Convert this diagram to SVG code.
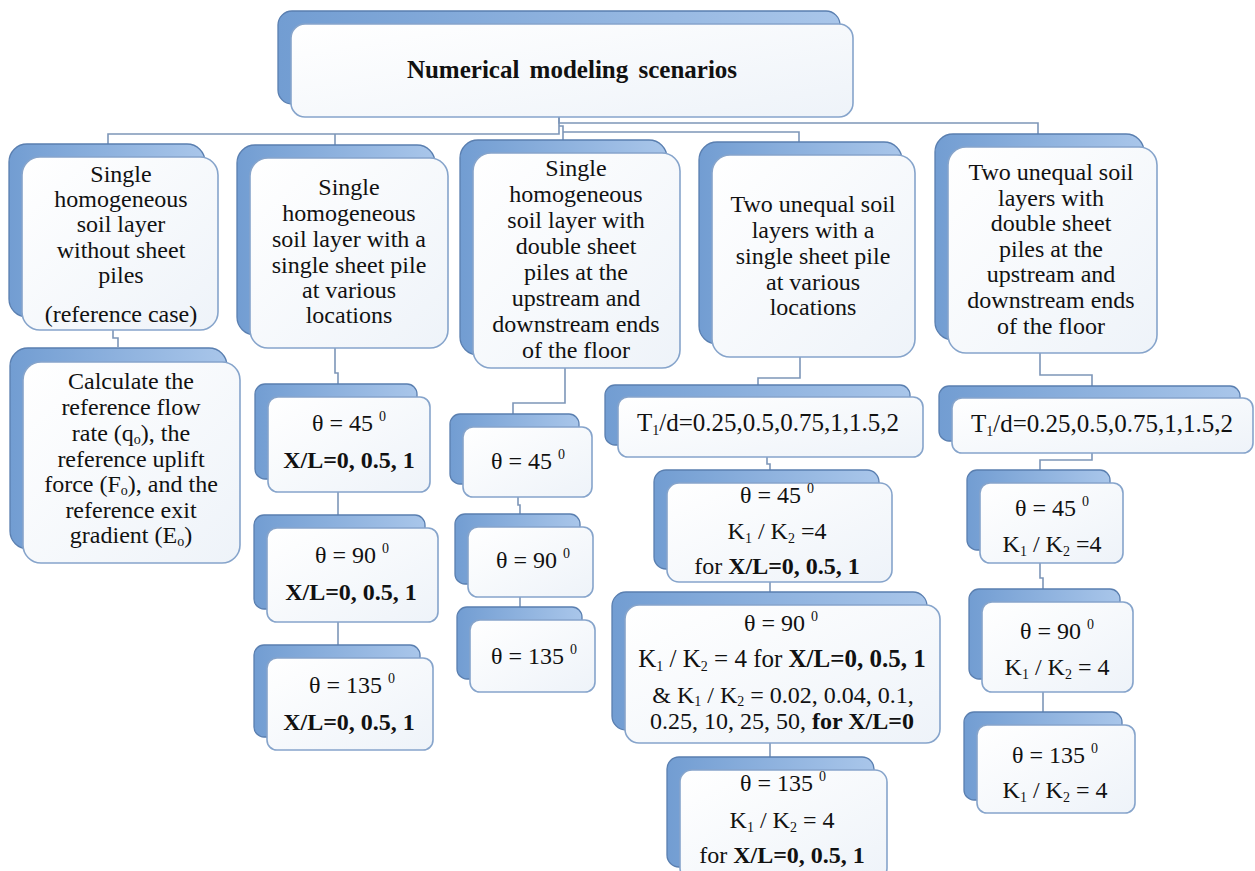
<svg xmlns="http://www.w3.org/2000/svg" width="1255" height="871" viewBox="0 0 1255 871">
<defs>
<linearGradient id="backG" x1="0" y1="0" x2="1" y2="0">
<stop offset="0" stop-color="#729dd2"/>
<stop offset="1" stop-color="#a9c6ea"/>
</linearGradient>
<linearGradient id="frontG" x1="0" y1="0" x2="1" y2="1">
<stop offset="0" stop-color="#ffffff"/>
<stop offset="1" stop-color="#eef3f9"/>
</linearGradient>
</defs>
<style>
.back{fill:url(#backG);stroke:#5a7fb0;stroke-width:1.3}
.front{fill:url(#frontG);stroke:#86a4cb;stroke-width:1.6}
.t{font-family:"Liberation Serif","Times New Roman",serif;font-size:24px;fill:#111;text-anchor:middle}
.title{font-family:"Liberation Serif","Times New Roman",serif;font-size:25px;font-weight:bold;fill:#111;text-anchor:middle;word-spacing:4px}
.w{font-size:25px}
.b{font-weight:bold}
.s{font-size:14px}
.conn{fill:none;stroke:#7d96b8;stroke-width:1.6}
</style>
<rect width="1255" height="871" fill="#ffffff"/>

<g id="connectors">
<path class="conn" d="M559,117 V134 H108 V144"/>
<path class="conn" d="M335,134 V145"/>
<path class="conn" d="M559,117 V123 H1038 V134"/>
<path class="conn" d="M559,126 H563 V140"/>
<path class="conn" d="M563,132 H799 V142"/>
<path class="conn" d="M113,330 V338 H118 V347"/>
<path class="conn" d="M335,348 V373 H338 V385"/>
<path class="conn" d="M338,492 V515"/>
<path class="conn" d="M338,622 V647"/>
<path class="conn" d="M565,368 V403 H513 V414"/>
<path class="conn" d="M518,497 V505 H520 V514"/>
<path class="conn" d="M520,597 V607"/>
<path class="conn" d="M800,357 V378 H758 V385"/>
<path class="conn" d="M767,457 V464 H770 V471"/>
<path class="conn" d="M770,582 V592"/>
<path class="conn" d="M770,743 V757"/>
<path class="conn" d="M1040,353 V375 H1092 V386"/>
<path class="conn" d="M1092,453 V460 H1040 V470"/>
<path class="conn" d="M1040,563 V578 H1043 V589"/>
<path class="conn" d="M1043,692 V712"/>
</g>

<g id="top">
<rect class="back" x="278" y="11" width="562" height="93" rx="14"/>
<rect class="front" x="291" y="24" width="562" height="93" rx="14"/>
<text class="title" x="572" y="78">Numerical modeling scenarios</text>
</g>

<g id="c1a">
<rect class="back" x="9" y="144" width="196" height="173" rx="18"/>
<rect class="front" x="22" y="157" width="196" height="173" rx="18"/>
<text class="t" x="121" y="182">Single</text>
<text class="t" x="121" y="207">homogeneous</text>
<text class="t" x="121" y="232">soil layer</text>
<text class="t" x="121" y="258">without sheet</text>
<text class="t" x="121" y="283">piles</text>
<text class="t" x="121" y="322">(reference case)</text>
</g>

<g id="c2a">
<rect class="back" x="237" y="145" width="198" height="190" rx="18"/>
<rect class="front" x="250" y="158" width="198" height="190" rx="18"/>
<text class="t" x="349" y="195">Single</text>
<text class="t" x="349" y="221">homogeneous</text>
<text class="t" x="349" y="247">soil layer with a</text>
<text class="t" x="349" y="273">single sheet pile</text>
<text class="t" x="349" y="298">at various</text>
<text class="t" x="349" y="323">locations</text>
</g>

<g id="c3a">
<rect class="back" x="460" y="140" width="207" height="215" rx="18"/>
<rect class="front" x="473" y="153" width="207" height="215" rx="18"/>
<text class="t" x="576" y="176">Single</text>
<text class="t" x="576" y="202">homogeneous</text>
<text class="t" x="576" y="228">soil layer with</text>
<text class="t" x="576" y="254">double sheet</text>
<text class="t" x="576" y="280">piles at the</text>
<text class="t" x="576" y="306">upstream and</text>
<text class="t" x="576" y="332">downstream ends</text>
<text class="t" x="576" y="358">of the floor</text>
</g>

<g id="c4a">
<rect class="back" x="699" y="142" width="203" height="202" rx="18"/>
<rect class="front" x="712" y="155" width="203" height="202" rx="18"/>
<text class="t" x="813" y="212">Two unequal soil</text>
<text class="t" x="813" y="238">layers with a</text>
<text class="t" x="813" y="264">single sheet pile</text>
<text class="t" x="813" y="290">at various</text>
<text class="t" x="813" y="315">locations</text>
</g>

<g id="c5a">
<rect class="back" x="935" y="134" width="209" height="206" rx="18"/>
<rect class="front" x="948" y="147" width="209" height="206" rx="18"/>
<text class="t" x="1051" y="180">Two unequal soil</text>
<text class="t" x="1051" y="206">layers with</text>
<text class="t" x="1051" y="231">double sheet</text>
<text class="t" x="1051" y="257">piles at the</text>
<text class="t" x="1051" y="282">upstream and</text>
<text class="t" x="1051" y="308">downstream ends</text>
<text class="t" x="1051" y="334">of the floor</text>
</g>

<g id="c1b">
<rect class="back" x="10" y="348" width="217" height="201" rx="18"/>
<rect class="front" x="23" y="362" width="217" height="201" rx="18"/>
<text class="t" x="131" y="389">Calculate the</text>
<text class="t" x="131" y="415">reference flow</text>
<text class="t" x="131" y="441">rate (q<tspan class="s" dy="3">o</tspan><tspan dy="-3">), the</tspan></text>
<text class="t" x="131" y="467">reference uplift</text>
<text class="t" x="131" y="492">force (F<tspan class="s" dy="3">o</tspan><tspan dy="-3">), and the</tspan></text>
<text class="t" x="131" y="518">reference exit</text>
<text class="t" x="131" y="543">gradient (E<tspan class="s" dy="3">o</tspan><tspan dy="-3">)</tspan></text>
</g>

<g id="c2b">
<rect class="back" x="255" y="384" width="162" height="95" rx="10"/>
<rect class="front" x="268" y="397" width="162" height="95" rx="10"/>
<text class="t" x="349" y="431">θ = 45 <tspan class="s" dy="-10">0</tspan></text>
<text class="t b" x="349" y="468">X/L=0, 0.5, 1</text>
</g>

<g id="c2c">
<rect class="back" x="254" y="515" width="171" height="94" rx="10"/>
<rect class="front" x="267" y="528" width="171" height="94" rx="10"/>
<text class="t" x="352" y="563">θ = 90 <tspan class="s" dy="-10">0</tspan></text>
<text class="t b" x="351" y="600">X/L=0, 0.5, 1</text>
</g>

<g id="c2d">
<rect class="back" x="254" y="645" width="166" height="92" rx="10"/>
<rect class="front" x="267" y="658" width="166" height="92" rx="10"/>
<text class="t" x="352" y="693">θ = 135 <tspan class="s" dy="-10">0</tspan></text>
<text class="t b" x="349" y="730">X/L=0, 0.5, 1</text>
</g>

<g id="c3b">
<rect class="back" x="450" y="414" width="129" height="70" rx="10"/>
<rect class="front" x="463" y="427" width="129" height="70" rx="10"/>
<text class="t" x="528" y="469">θ = 45 <tspan class="s" dy="-10">0</tspan></text>
</g>

<g id="c3c">
<rect class="back" x="455" y="514" width="125" height="70" rx="10"/>
<rect class="front" x="468" y="527" width="125" height="70" rx="10"/>
<text class="t" x="533" y="568">θ = 90 <tspan class="s" dy="-10">0</tspan></text>
</g>

<g id="c3d">
<rect class="back" x="457" y="607" width="125" height="72" rx="10"/>
<rect class="front" x="470" y="620" width="125" height="72" rx="10"/>
<text class="t" x="534" y="664">θ = 135 <tspan class="s" dy="-10">0</tspan></text>
</g>

<g id="c4b">
<rect class="back" x="605" y="385" width="305" height="60" rx="10"/>
<rect class="front" x="618" y="397" width="305" height="60" rx="10"/>
<text class="t w" x="768" y="431">T<tspan class="s" dy="4">1</tspan><tspan dy="-4">/d=0.25,0.5,0.75,1,1.5,2</tspan></text>
</g>

<g id="c4c">
<rect class="back" x="654" y="470" width="225" height="99" rx="12"/>
<rect class="front" x="667" y="483" width="225" height="99" rx="12"/>
<text class="t" x="777" y="503">θ = 45 <tspan class="s" dy="-10">0</tspan></text>
<text class="t" x="777" y="539">K<tspan class="s" dy="4">1</tspan><tspan dy="-4"> / K</tspan><tspan class="s" dy="4">2</tspan><tspan dy="-4"> =4</tspan></text>
<text class="t" x="777" y="574">for <tspan class="b">X/L=0, 0.5, 1</tspan></text>
</g>

<g id="c4d">
<rect class="back" x="612" y="592" width="315" height="138" rx="14"/>
<rect class="front" x="625" y="605" width="315" height="138" rx="14"/>
<text class="t" x="781" y="631">θ = 90 <tspan class="s" dy="-10">0</tspan></text>
<text class="t w" x="782" y="667">K<tspan class="s" dy="4">1</tspan><tspan dy="-4"> / K</tspan><tspan class="s" dy="4">2</tspan><tspan dy="-4"> = 4 for </tspan><tspan class="b">X/L=0, 0.5, 1</tspan></text>
<text class="t" x="783" y="703">&amp; K<tspan class="s" dy="3">1</tspan><tspan dy="-3"> / K</tspan><tspan class="s" dy="3">2</tspan><tspan dy="-3"> = 0.02, 0.04, 0.1,</tspan></text>
<text class="t" x="782" y="729">0.25, 10, 25, 50, <tspan class="b">for X/L=0</tspan></text>
</g>

<g id="c4e">
<rect class="back" x="667" y="757" width="207" height="110" rx="12"/>
<rect class="front" x="680" y="770" width="207" height="110" rx="12"/>
<text class="t" x="783" y="791">θ = 135 <tspan class="s" dy="-10">0</tspan></text>
<text class="t" x="782" y="828">K<tspan class="s" dy="4">1</tspan><tspan dy="-4"> / K</tspan><tspan class="s" dy="4">2</tspan><tspan dy="-4"> = 4</tspan></text>
<text class="t" x="782" y="863">for <tspan class="b">X/L=0, 0.5, 1</tspan></text>
</g>

<g id="c5b">
<rect class="back" x="939" y="386" width="301" height="55" rx="10"/>
<rect class="front" x="952" y="398" width="301" height="55" rx="10"/>
<text class="t w" x="1102" y="432">T<tspan class="s" dy="4">1</tspan><tspan dy="-4">/d=0.25,0.5,0.75,1,1.5,2</tspan></text>
</g>

<g id="c5c">
<rect class="back" x="967" y="470" width="143" height="80" rx="10"/>
<rect class="front" x="980" y="483" width="143" height="80" rx="10"/>
<text class="t" x="1052" y="516">θ = 45 <tspan class="s" dy="-10">0</tspan></text>
<text class="t" x="1052" y="552">K<tspan class="s" dy="4">1</tspan><tspan dy="-4"> / K</tspan><tspan class="s" dy="4">2</tspan><tspan dy="-4"> =4</tspan></text>
</g>

<g id="c5d">
<rect class="back" x="969" y="589" width="151" height="90" rx="10"/>
<rect class="front" x="982" y="602" width="151" height="90" rx="10"/>
<text class="t" x="1057" y="639">θ = 90 <tspan class="s" dy="-10">0</tspan></text>
<text class="t" x="1057" y="675">K<tspan class="s" dy="4">1</tspan><tspan dy="-4"> / K</tspan><tspan class="s" dy="4">2</tspan><tspan dy="-4"> = 4</tspan></text>
</g>

<g id="c5e">
<rect class="back" x="964" y="712" width="158" height="88" rx="10"/>
<rect class="front" x="977" y="725" width="158" height="88" rx="10"/>
<text class="t" x="1055" y="763">θ = 135 <tspan class="s" dy="-10">0</tspan></text>
<text class="t" x="1055" y="798">K<tspan class="s" dy="4">1</tspan><tspan dy="-4"> / K</tspan><tspan class="s" dy="4">2</tspan><tspan dy="-4"> = 4</tspan></text>
</g>
</svg>
